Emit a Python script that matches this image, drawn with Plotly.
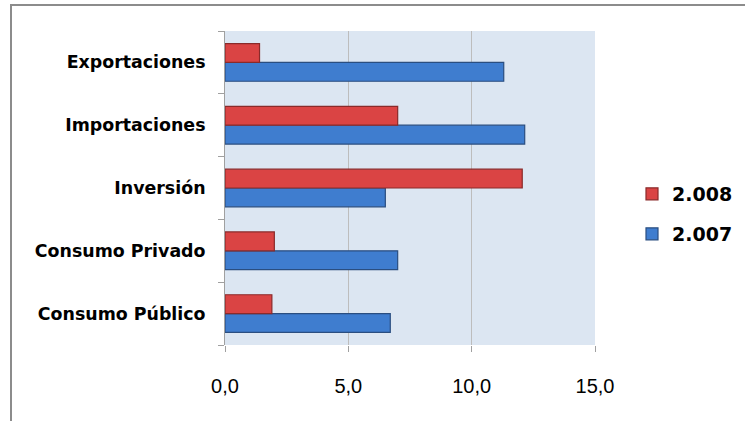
import plotly.graph_objects as go

categories = ["Consumo Público", "Consumo Privado", "Inversión", "Importaciones", "Exportaciones"]
values_2007 = [6.7, 7.0, 6.5, 12.15, 11.3]
values_2008 = [1.9, 2.0, 12.05, 7.0, 1.4]
series_names = ["2.007", "2.008"]
x_ticks = [0, 5, 10, 15]
x_tick_labels = ["0,0", "5,0", "10,0", "15,0"]

fig = go.Figure()
fig.add_trace(go.Bar(
    y=categories, x=values_2007, orientation="h", name=series_names[0],
    marker=dict(color="#3F7DCF", line=dict(color="#2A4E80", width=1.2)),
    legend="legend2",
))
fig.add_trace(go.Bar(
    y=categories, x=values_2008, orientation="h", name=series_names[1],
    marker=dict(color="#DA4444", line=dict(color="#8A2A2A", width=1.2)),
    legend="legend",
))

L, R, T, B = 225, 595, 31, 345
W, H = 745, 421
pw, ph = R - L, B - T

def px_x(p):
    return (p - L) / pw

def px_y(p):
    return (B - p) / ph

legend_font = dict(family="DejaVu Sans", size=19, color="black", weight="bold")

fig.update_layout(
    width=W, height=H,
    margin=dict(l=L, r=W - R, t=T, b=H - B, pad=0, autoexpand=False),
    paper_bgcolor="white",
    plot_bgcolor="#DCE6F2",
    barmode="group",
    bargap=0.4,
    bargroupgap=0,
    showlegend=True,
    legend=dict(
        x=px_x(632), y=px_y(194), xanchor="left", yanchor="middle",
        font=legend_font, itemwidth=30, bgcolor="rgba(0,0,0,0)",
    ),
    legend2=dict(
        x=px_x(632), y=px_y(234), xanchor="left", yanchor="middle",
        font=legend_font, itemwidth=30, bgcolor="rgba(0,0,0,0)",
    ),
    xaxis=dict(
        range=[0, 15], tickvals=x_ticks, ticktext=x_tick_labels,
        showgrid=True, gridcolor="#BDBDBD", gridwidth=1,
        zeroline=False, showline=False,
        ticks="outside", ticklen=6, tickcolor="#A0A0A0",
        ticklabelstandoff=17,
        tickfont=dict(family="Liberation Sans", size=20, color="black"),
        fixedrange=True, automargin=False,
    ),
    yaxis=dict(
        showgrid=False, zeroline=False,
        showline=True, linecolor="#A0A0A0", linewidth=1,
        ticks="outside", ticklen=6, tickcolor="#A0A0A0",
        tickson="boundaries",
        ticklabelstandoff=15,
        tickfont=dict(family="DejaVu Sans", size=17.4, color="black", weight="bold"),
        fixedrange=True, automargin=False,
    ),
    font=dict(family="DejaVu Sans"),
)

# outer chart border (extends beyond the visible window on right/bottom)
fig.add_shape(
    type="rect", xref="paper", yref="paper",
    x0=px_x(11), x1=px_x(760), y0=px_y(440), y1=px_y(5),
    line=dict(color="#8C8C8C", width=2), fillcolor="rgba(0,0,0,0)", layer="below",
)

fig.write_html("out.html")
